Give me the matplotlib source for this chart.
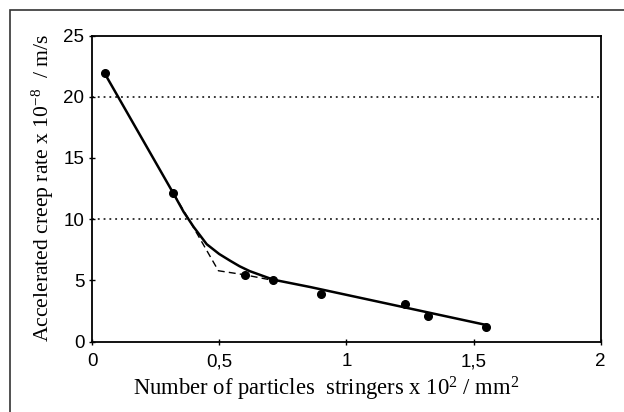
import matplotlib
matplotlib.use("Agg")
import matplotlib.pyplot as plt
from matplotlib.patches import Rectangle

plt.rcParams["mathtext.fontset"] = "custom"
plt.rcParams["mathtext.rm"] = "Liberation Serif"
plt.rcParams["mathtext.it"] = "Liberation Serif:italic"
plt.rcParams["mathtext.bf"] = "Liberation Serif:bold"

# measured points
x_pts = [0.05, 0.32, 0.60, 0.71, 0.90, 1.23, 1.32, 1.55]
y_pts = [21.9, 12.1, 5.4, 5.0, 3.9, 3.1, 2.1, 1.2]

# solid fitted curve
x_fit = [0.05, 0.32, 0.36, 0.40, 0.451, 0.50, 0.543, 0.58, 0.62, 0.713, 0.858, 1.55]
y_fit = [21.9, 12.1, 10.6, 9.35, 7.95, 7.15, 6.6, 6.15, 5.75, 5.05, 4.45, 1.35]

# dashed curve
x_dash = [0.32, 0.382, 0.497, 0.60, 0.71]
y_dash = [12.1, 9.93, 5.78, 5.45, 5.0]

x_ticks = [0, 0.5, 1, 1.5, 2]
x_tick_labels = ["0", "0,5", "1", "1,5", "2"]
y_ticks = [0, 5, 10, 15, 20, 25]

fig = plt.figure(figsize=(6.24, 4.12), dpi=100)
ax = fig.add_axes([92 / 624, 1 - 341.5 / 412, (600.7 - 92) / 624, (341.5 - 35.5) / 412])

# outer frame of the figure
fig.patches.append(Rectangle((9.5 / 624, -0.05), 1.0, 1 - 9.5 / 412 + 0.05,
                             transform=fig.transFigure, fill=False,
                             edgecolor="#333333", linewidth=1.2))

for yv in [10, 20]:
    ax.axhline(yv, color="black", linestyle=(0, (1.2, 2.6)), linewidth=1.1, zorder=1)

ax.plot(x_fit, y_fit, color="black", linewidth=1.8, zorder=2)
ax.plot(x_dash, y_dash, color="black", linewidth=1.0, linestyle=(0, (5, 3)), zorder=2)
ax.plot(x_pts, y_pts, "o", color="black", markersize=5.5, zorder=3)

ax.set_xlim(0, 2)
ax.set_ylim(0, 25)
ax.set_xticks(x_ticks)
ax.set_xticklabels(x_tick_labels, fontname="Liberation Sans", fontsize=13.5)
ax.set_yticks(y_ticks)
ax.set_yticklabels([str(v) for v in y_ticks], fontname="Liberation Sans", fontsize=13.5)
ax.tick_params(direction="inout", length=5, width=1.0, color="black")
ax.tick_params(axis="x", pad=6)
ax.tick_params(axis="y", pad=3)

for s in ax.spines.values():
    s.set_linewidth(1.3)

ax.set_xlabel(r"Number of particles  stringers x 10$^{2}$ / mm$^{2}$",
              fontname="Liberation Serif", fontsize=16.3)
ax.xaxis.set_label_coords((326 - 92) / 508.7, -0.11)
ax.set_ylabel(r"Accelerated creep rate x 10$^{-8}$  / m/s",
              fontname="Liberation Serif", fontsize=15.6, labelpad=5)

plt.savefig("out.png", dpi=100)
